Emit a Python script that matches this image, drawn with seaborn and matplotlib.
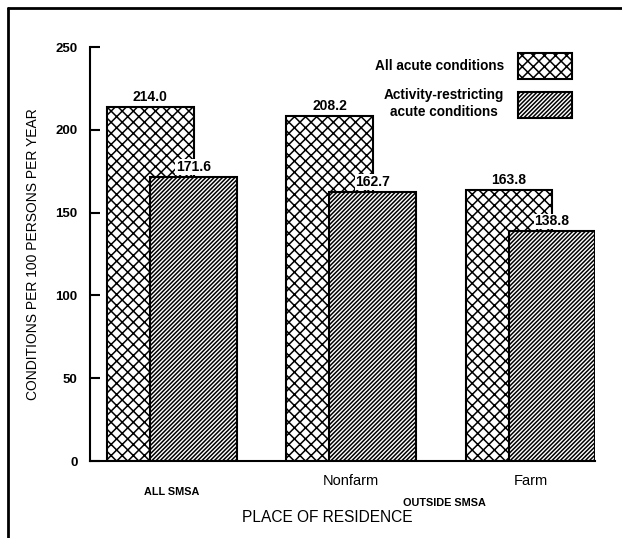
import pandas as pd
import matplotlib.pyplot as plt
import seaborn as sns
from matplotlib.lines import Line2D
from matplotlib.patches import Patch

# Data
places = ["ALL SMSA", "Nonfarm", "Farm"]
all_acute = [214.0, 208.2, 163.8]
activity_restricting = [171.6, 162.7, 138.8]

df = pd.DataFrame({"place": places, "all": all_acute, "restricting": activity_restricting})

sns.set_style("ticks")
plt.rcParams["font.family"] = ["Liberation Sans", "DejaVu Sans"]
plt.rcParams["hatch.linewidth"] = 1.1
for k in ["text.color", "axes.labelcolor", "xtick.color", "ytick.color", "axes.edgecolor"]:
    plt.rcParams[k] = "black"

fig = plt.figure(figsize=(6.22, 5.38), dpi=100)
ax = fig.add_axes([0.1447, 0.143, 0.812, 0.7696])

bar_w = 0.483
shift = 0.12
cross = "xxx"
diag = "////////"

# All acute conditions (cross-hatched), shifted left
sns.barplot(data=df, x="place", y="all", color="white", edgecolor="black",
            linewidth=1.5, hatch=cross, width=bar_w, errorbar=None, ax=ax)
for p in ax.containers[0]:
    p.set_x(p.get_x() - shift)

# Activity-restricting (diagonal), shifted right, drawn on top
sns.barplot(data=df, x="place", y="restricting", color="white", edgecolor="black",
            linewidth=1.5, hatch=diag, width=bar_w, errorbar=None, ax=ax)
for p in ax.containers[1]:
    p.set_x(p.get_x() + shift)

for c in ax.containers:
    labels = ax.bar_label(c, fmt="%.1f", padding=2, fontsize=10, fontweight="bold")
    for t in labels:
        t.set_bbox(dict(facecolor="white", edgecolor="none", pad=0.5))
        t.set_zorder(5)

ax.set_xlim(-0.456, 2.36)
ax.set_ylim(0, 250)
ax.set_yticks([0, 50, 100, 150, 200, 250])
ax.tick_params(axis="y", direction="in", length=7, width=1.5, pad=9, labelsize=9.5)
for lbl in ax.get_yticklabels():
    lbl.set_fontweight("bold")
ax.tick_params(axis="x", length=0, pad=9, labelsize=10.5)
ax.set_xticks([0, 1, 2], ["", "Nonfarm", "Farm"])

sns.despine(ax=ax)
for s in ["left", "bottom"]:
    ax.spines[s].set_linewidth(1.5)

ax.set_xlabel("")
ax.set_ylabel("CONDITIONS PER 100 PERSONS PER YEAR", fontsize=10, labelpad=11)

trans = ax.get_xaxis_transform()
ax.text(0, -0.075, places[0], transform=trans, ha="center", va="center",
        fontsize=7.8, fontweight="bold")
ax.text(1.52, -0.102, "OUTSIDE SMSA", transform=trans, ha="center", va="center",
        fontsize=7.8, fontweight="bold")
fig.text(327 / 622, 1 - 518 / 538, "PLACE OF RESIDENCE", ha="center", va="center",
         fontsize=11.2)

handles = [Patch(facecolor="white", edgecolor="black", hatch=cross, linewidth=1.5),
           Patch(facecolor="white", edgecolor="black", hatch=diag, linewidth=1.5)]
leg = ax.legend(handles, ["All acute conditions", "Activity-restricting\nacute conditions"],
                loc="upper right", bbox_to_anchor=(0.968, 1.003), frameon=False,
                markerfirst=False, handlelength=4.0, handleheight=2.6,
                labelspacing=0.7, borderpad=0, handletextpad=1.0,
                prop={"size": 9.8, "weight": "bold"})
for t in leg.get_texts():
    t.set_multialignment("center")

# page border lines
fig.add_artist(Line2D([8 / 622, 8 / 622], [0, 1 - 8 / 538], color="black", linewidth=2,
                      transform=fig.transFigure))
fig.add_artist(Line2D([8 / 622, 1], [1 - 8 / 538, 1 - 8 / 538], color="black", linewidth=2,
                      transform=fig.transFigure))

fig.savefig("out.png", dpi=100)
